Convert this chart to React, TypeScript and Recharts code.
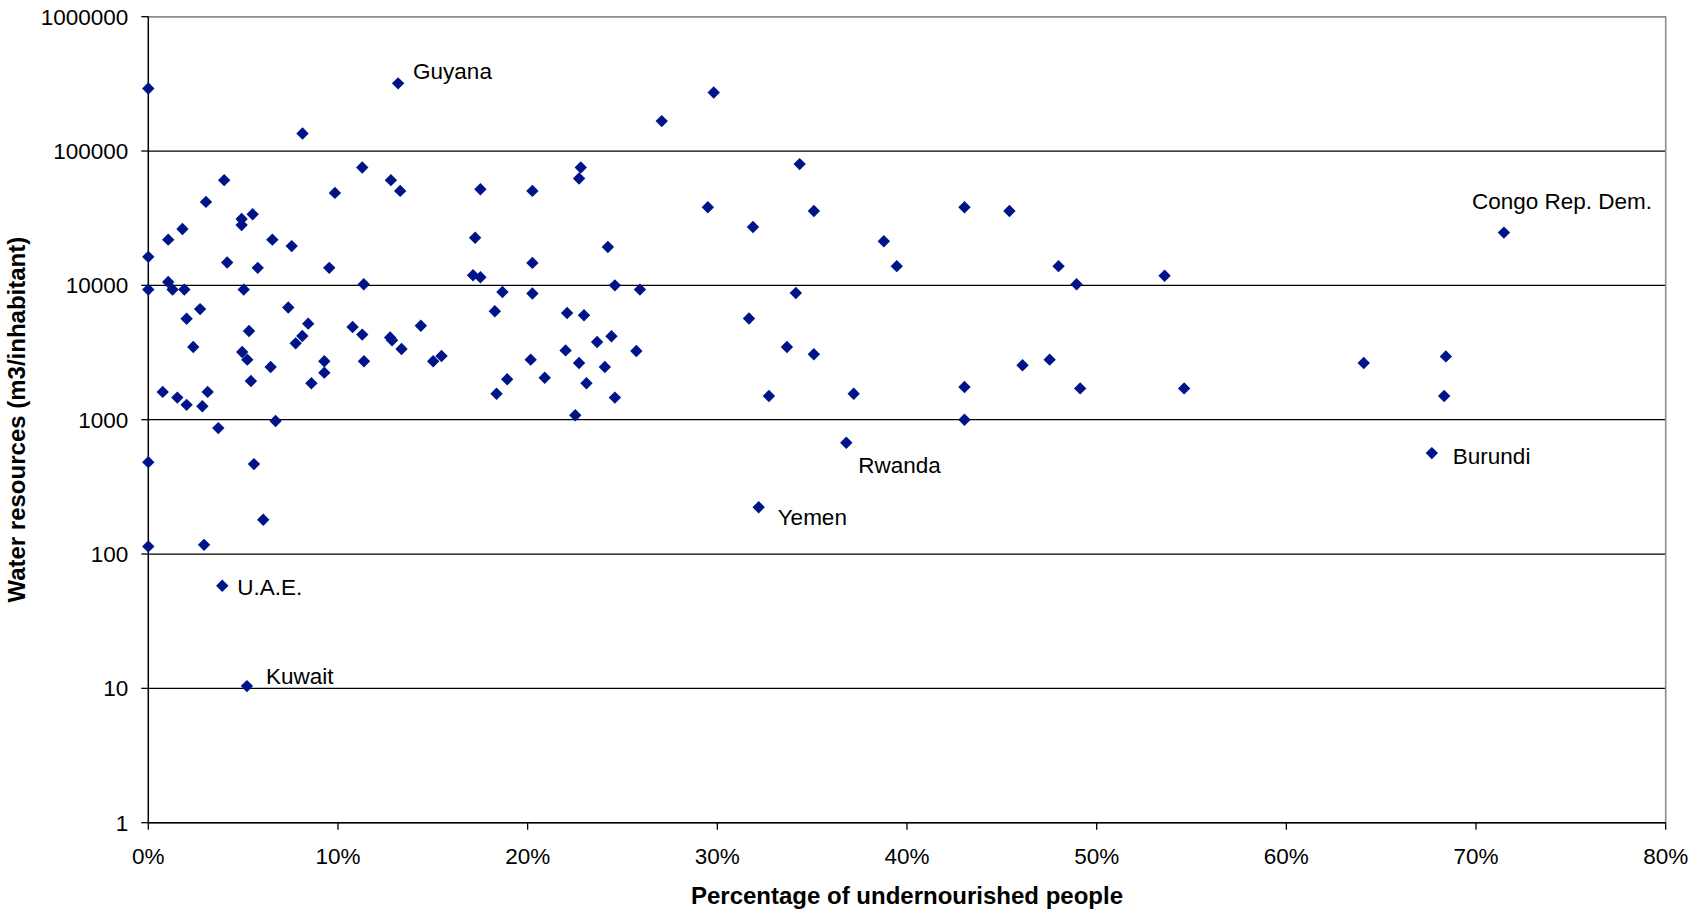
import React from 'react';
import { ScatterChart, Scatter, XAxis, YAxis, CartesianGrid, ReferenceLine, Label } from 'recharts';

// [percentage of undernourished people, water resources m3/inhabitant]
const countryPoints: [number, number][] = [
  [0, 292000], [8.13, 135000], [11.28, 75500], [4.0, 60700], [3.04, 41800], [1.05, 21900],
  [1.8, 26300], [4.92, 31200], [4.92, 28100], [5.5, 33800], [6.54, 21900], [7.56, 19600],
  [4.16, 14800], [5.77, 13500], [0, 16300], [1.05, 10600], [1.28, 9300], [1.9, 9300],
  [0, 9300], [5.03, 9300], [9.54, 13500], [9.84, 48800], [11.36, 10200], [12.79, 60700],
  [13.28, 50500], [17.23, 22600], [17.51, 52000], [20.25, 50500], [20.25, 14700], [17.12, 11900],
  [17.51, 11500], [18.67, 8930], [20.25, 8690],
  [2.02, 5640], [2.73, 6660], [2.37, 3480], [0.76, 1610], [1.53, 1460], [2.02, 1290],
  [2.85, 1260], [3.13, 1610], [3.69, 866], [0, 483], [0, 114], [2.94, 117],
  [5.57, 467], [6.06, 180], [6.71, 977], [4.95, 3190], [5.22, 2800], [5.31, 4570],
  [5.41, 1940], [6.45, 2470], [7.38, 6850], [7.77, 3700], [8.12, 4200], [8.43, 5190],
  [8.6, 1870], [9.28, 2720], [9.28, 2240], [10.77, 4900], [11.28, 4300], [11.37, 2720],
  [12.75, 4100], [12.85, 3900], [13.35, 3360], [14.37, 5010], [15.02, 2720], [15.46, 2980],
  [18.27, 6410], [18.36, 1560], [18.92, 2000], [20.16, 2800], [20.9, 2050], [22.08, 6230],
  [22.0, 3280],
  [29.81, 273000], [27.07, 167000], [22.8, 75500], [22.71, 62500], [34.34, 79900], [29.5, 38200],
  [35.09, 35800], [31.88, 27200], [43.03, 38200], [45.4, 35800], [24.23, 19300], [38.78, 21300],
  [39.46, 13900], [24.6, 10000], [25.92, 9300], [34.14, 8780], [22.97, 5990], [31.67, 5660],
  [23.66, 3790], [24.42, 4180], [25.73, 3250], [22.71, 2640], [24.07, 2470], [23.1, 1870],
  [24.6, 1460], [22.51, 1080], [33.67, 3480], [35.09, 3070], [32.72, 1500], [37.19, 1560],
  [43.03, 1750], [43.03, 1000],
  [47.99, 13900], [48.94, 10200], [53.58, 11800], [46.09, 2540], [47.52, 2800], [49.13, 1710],
  [54.61, 1710], [64.08, 2640], [68.41, 2960], [68.32, 1500],
];

const labelNames = ['Guyana', 'Congo Rep. Dem.', 'Burundi', 'Rwanda', 'Yemen', 'U.A.E.', 'Kuwait'];
const labelPct = [13.17, 71.47, 67.67, 36.8, 32.18, 3.9, 5.2];
const labelWater = [319000, 24700, 564, 674, 223, 58, 10.4];

const xTicks = [0, 10, 20, 30, 40, 50, 60, 70, 80];
const yTicks = [1, 10, 100, 1000, 10000, 100000, 1000000];

const xTitle = 'Percentage of undernourished people';
const yTitle = 'Water resources (m3/inhabitant)';

// label text offsets (layout only): [dx to text start, dy to baseline]
const labelOffsets: Record<string, [number, number]> = {
  'Guyana': [15, -4],
  'Congo Rep. Dem.': [-32, -24],
  'Burundi': [21, 11],
  'Rwanda': [12, 30],
  'Yemen': [19, 18],
  'U.A.E.': [15, 9],
  'Kuwait': [19, -2],
};

const plainData = countryPoints.map(([x, y]) => ({ x, y }));
const labeledData = labelNames.map((name, i) => ({ x: labelPct[i], y: labelWater[i], name }));

const FONT = '"Liberation Sans", Arial, sans-serif';
const MARKER = '#001489';
const R = 6.2;

const diamondPoints = (cx: number, cy: number) =>
  `${cx},${cy - R} ${cx + R},${cy} ${cx},${cy + R} ${cx - R},${cy}`;

const Diamond = (props: any) => {
  const { cx, cy } = props;
  if (cx == null || cy == null) return <g />;
  return <polygon points={diamondPoints(cx, cy)} fill={MARKER} />;
};

const LabeledDiamond = (props: any) => {
  const { cx, cy, payload } = props;
  if (cx == null || cy == null) return <g />;
  const name = payload && payload.name;
  const off = labelOffsets[name] || [12, 0];
  return (
    <g>
      <polygon points={diamondPoints(cx, cy)} fill={MARKER} />
      <text x={cx + off[0]} y={cy + off[1]} fontSize={22.5} fontFamily={FONT} fill="#000">
        {name}
      </text>
    </g>
  );
};

export default function App() {
  return (
    <div style={{ position: 'absolute', left: 0, top: 0, width: 1691, height: 911, background: '#fff' }}>
      <ScatterChart
        width={1691}
        height={911}
        margin={{ top: 16.7, right: 25.3, bottom: 0, left: 0 }}
        style={{ fontFamily: FONT }}
      >
        <CartesianGrid vertical={false} stroke="#000" strokeWidth={1.3} strokeOpacity={1} />
        <XAxis
          type="number"
          dataKey="x"
          domain={[0, 80]}
          ticks={xTicks}
          tickFormatter={(v: number) => `${v}%`}
          height={88.3}
          tickSize={7}
          tickMargin={18}
          axisLine={{ stroke: '#000', strokeWidth: 1.5 }}
          tickLine={{ stroke: '#000', strokeWidth: 1.3 }}
          tick={{ fill: '#000', fontSize: 22.5, fontFamily: FONT }}
          interval={0}
        >
          <Label
            content={(p: any) => {
              const vb = p.viewBox || { x: 148.3, y: 822.7, width: 1517.4, height: 88.3 };
              return (
                <text
                  x={vb.x + vb.width / 2}
                  y={vb.y + 81.5}
                  textAnchor="middle"
                  fontSize={24}
                  fontWeight="bold"
                  fontFamily={FONT}
                  fill="#000"
                >
                  {xTitle}
                </text>
              );
            }}
          />
        </XAxis>
        <YAxis
          type="number"
          dataKey="y"
          scale="log"
          domain={[1, 1000000]}
          ticks={yTicks}
          tickFormatter={(v: number) => String(v)}
          width={148.3}
          tickSize={7}
          tickMargin={13}
          axisLine={{ stroke: '#000', strokeWidth: 1.5 }}
          tickLine={{ stroke: '#000', strokeWidth: 1.3 }}
          tick={{ fill: '#000', fontSize: 22.5, fontFamily: FONT }}
          interval={0}
          allowDataOverflow
        >
          <Label
            content={(p: any) => {
              const vb = p.viewBox || { x: 0, y: 16.7, width: 148.3, height: 806 };
              const cy = vb.y + vb.height / 2;
              const bx = vb.x + 25;
              return (
                <text
                  x={bx}
                  y={cy}
                  transform={`rotate(-90, ${bx}, ${cy})`}
                  textAnchor="middle"
                  fontSize={24}
                  fontWeight="bold"
                  fontFamily={FONT}
                  fill="#000"
                >
                  {yTitle}
                </text>
              );
            }}
          />
        </YAxis>
        <ReferenceLine y={1000000} stroke="#8c8c8c" strokeWidth={1.6} />
        <ReferenceLine x={80} stroke="#8c8c8c" strokeWidth={1.6} />
        <Scatter data={plainData} fill={MARKER} shape={Diamond} isAnimationActive={false} />
        <Scatter data={labeledData} fill={MARKER} shape={LabeledDiamond} isAnimationActive={false} />
      </ScatterChart>
    </div>
  );
}
